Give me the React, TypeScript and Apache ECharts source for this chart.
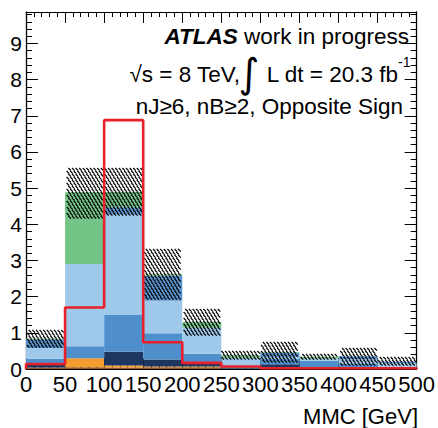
import React, { useEffect, useRef } from 'react';
import * as echarts from 'echarts';

// bin edges of the MMC histogram (GeV)
const binEdges = [0, 50, 100, 150, 200, 250, 300, 350, 400, 450, 500];

// stacked background components, bottom to top
const brown = [0.04, 0.05, 0.04, 0.05, 0.05, 0.01, 0.01, 0.01, 0.01, 0.0];
const orange = [0.0, 0.25, 0.06, 0.02, 0.02, 0.0, 0.0, 0.0, 0.0, 0.0];
const navy = [0.12, 0.0, 0.38, 0.19, 0.1, 0.03, 0.12, 0.02, 0.02, 0.01];
const medium = [0.12, 0.33, 1.03, 0.73, 0.25, 0.05, 0.15, 0.2, 0.12, 0.05];
const light = [0.3, 2.27, 2.76, 0.9, 0.72, 0.22, 0.05, 0.06, 0.12, 0.1];
const extra = [0.24, 0.0, 0.2, 0.69, 0.0, 0.0, 0.12, 0.0, 0.08, 0.04];
const green = [0.02, 1.99, 0.43, 0.03, 0.16, 0.07, 0.02, 0.05, 0.0, 0.0];

// uncertainty on the total background (hatched band)
const err = [0.26, 0.74, 0.7, 0.74, 0.39, 0.2, 0.3, 0.14, 0.31, 0.15];

// signal histogram (red line)
const signal = [0.14, 1.7, 6.88, 0.74, 0.17, 0.07, 0.02, 0.02, 0.02, 0.02];

const FONT = 'Liberation Sans';

export default function App() {
  const ref = useRef<HTMLDivElement>(null);

  useEffect(() => {
    if (!ref.current) return;
    const chart = echarts.init(ref.current, null, { renderer: 'svg' });

    const layers = [brown, orange, navy, medium, light, extra, green];
    const colors = ['#8f5628', '#f29b30', '#1c365f', '#4f8fcc', '#9fc9ea', '#5b95cf', '#74c487'];
    const cum = new Array(signal.length).fill(0);

    const rectRender = (color: string) => (params: any, api: any) => {
      const lo = api.value(2);
      const hi = api.value(3);
      if (hi - lo <= 0) return null;
      const p0 = api.coord([api.value(0), hi]);
      const p1 = api.coord([api.value(1), lo]);
      return {
        type: 'rect',
        shape: { x: p0[0], y: p0[1], width: p1[0] - p0[0], height: p1[1] - p0[1] },
        style: { fill: color },
      };
    };

    const stackSeries = layers.map((vals, li) => {
      const data = vals.map((v, i) => {
        const lo = cum[i];
        const hi = lo + v;
        cum[i] = hi;
        return [binEdges[i], binEdges[i + 1], lo, hi];
      });
      return {
        type: 'custom',
        renderItem: rectRender(colors[li]),
        data,
        encode: { x: [0, 1], y: [2, 3] },
        z: 2,
        silent: true,
      };
    });

    const hatchData = cum.map((t, i) => [binEdges[i], binEdges[i + 1], Math.max(0, t - err[i]), t + err[i]]);

    const hatchRender = (params: any, api: any) => {
      const p0 = api.coord([api.value(0), api.value(3)]);
      const p1 = api.coord([api.value(1), api.value(2)]);
      const x0 = p0[0], y0 = p0[1], x1 = p1[0], y1 = p1[1];
      const dy = 3.0, dx = 3.6, len = 2.6;
      let d = '';
      const rStart = Math.ceil(y0 / dy);
      const rEnd = Math.floor((y1 - len) / dy);
      for (let r = rStart; r <= rEnd; r++) {
        const y = r * dy;
        const off = (Math.abs(r) % 2) * (dx / 2);
        for (let c = Math.ceil((x0 - off) / dx); ; c++) {
          const x = c * dx + off;
          if (x + len > x1) break;
          d += `M${x.toFixed(2)} ${y.toFixed(2)}L${(x + len).toFixed(2)} ${(y + len).toFixed(2)}`;
        }
      }
      if (!d) return null;
      return {
        type: 'path',
        shape: { pathData: d },
        style: { stroke: '#000', lineWidth: 1.2, fill: 'none' },
      };
    };

    const sigPts: number[][] = [[0, 0]];
    signal.forEach((v, i) => {
      sigPts.push([binEdges[i], v], [binEdges[i + 1], v]);
    });
    sigPts.push([500, 0]);

    const black = { color: '#000' };

    const xBase = {
      type: 'value',
      min: 0,
      max: 500,
      interval: 50,
      splitLine: { show: false },
      minorSplitLine: { show: false },
      axisLine: { show: true, onZero: false, lineStyle: { color: '#000', width: 1 } },
      axisTick: { show: true, inside: true, length: 11, lineStyle: black },
      minorTick: { show: true, splitNumber: 5, length: 5, lineStyle: black },
    };
    const yBase = {
      type: 'value',
      min: 0,
      max: 9.87,
      interval: 1,
      splitLine: { show: false },
      minorSplitLine: { show: false },
      axisLine: { show: true, onZero: false, lineStyle: { color: '#000', width: 1.3 } },
      axisTick: { show: true, inside: true, length: 12, lineStyle: black },
      minorTick: { show: true, splitNumber: 5, length: 6, lineStyle: black },
    };

    const option: any = {
      animation: false,
      backgroundColor: '#fff',
      grid: { left: 26, top: 12, right: 21, bottom: 59, containLabel: false },
      xAxis: [
        {
          ...xBase,
          position: 'bottom',
          axisLabel: {
            show: true,
            fontSize: 22,
            fontFamily: FONT,
            color: '#000',
            margin: 4,
            showMinLabel: true,
            showMaxLabel: true,
          },
        },
        { ...xBase, position: 'top', axisLabel: { show: false } },
      ],
      yAxis: [
        {
          ...yBase,
          position: 'left',
          axisLabel: {
            show: true,
            fontSize: 21,
            fontFamily: FONT,
            color: '#000',
            margin: 4,
            formatter: (v: number) => (v > 9.5 ? '' : String(Math.round(v))),
          },
        },
        { ...yBase, position: 'right', axisLabel: { show: false } },
      ],
      series: [
        ...stackSeries,
        {
          type: 'custom',
          renderItem: hatchRender,
          data: hatchData,
          encode: { x: [0, 1], y: [2, 3] },
          z: 3,
          silent: true,
        },
        {
          type: 'line',
          data: sigPts,
          symbol: 'none',
          lineStyle: { color: '#e8202a', width: 2.6 },
          z: 5,
          clip: true,
          silent: true,
        },
      ],
      graphic: [
        {
          type: 'text',
          x: 409,
          y: 36,
          style: {
            text: '{b|ATLAS} work in progress',
            fontSize: 22.5,
            fontFamily: FONT,
            fill: '#000',
            align: 'right',
            verticalAlign: 'middle',
            rich: {
              b: { fontSize: 22.5, fontFamily: FONT, fontWeight: 'bold', fontStyle: 'italic', fill: '#000' },
            },
          },
        },
        {
          type: 'text',
          x: 240,
          y: 74.5,
          style: {
            text: '√s = 8 TeV,',
            fontSize: 22.5,
            fontFamily: FONT,
            fill: '#000',
            align: 'right',
            verticalAlign: 'middle',
          },
        },
        {
          type: 'text',
          x: 249,
          y: 73,
          style: {
            text: '∫',
            fontSize: 40,
            fontFamily: 'DejaVu Sans',
            fill: '#000',
            align: 'center',
            verticalAlign: 'middle',
          },
        },
        {
          type: 'text',
          x: 398,
          y: 74.5,
          style: {
            text: 'L dt = 20.3 fb',
            fontSize: 22.5,
            fontFamily: FONT,
            fill: '#000',
            align: 'right',
            verticalAlign: 'middle',
          },
        },
        {
          type: 'text',
          x: 398,
          y: 62,
          style: {
            text: '-1',
            fontSize: 14,
            fontFamily: FONT,
            fill: '#000',
            align: 'left',
            verticalAlign: 'middle',
          },
        },
        {
          type: 'text',
          x: 403,
          y: 106.5,
          style: {
            text: 'nJ≥6, nB≥2, Opposite Sign',
            fontSize: 22.5,
            fontFamily: FONT,
            fill: '#000',
            align: 'right',
            verticalAlign: 'middle',
          },
        },
        {
          type: 'text',
          x: 418,
          y: 416,
          style: {
            text: 'MMC [GeV]',
            fontSize: 22,
            fontFamily: FONT,
            fill: '#000',
            align: 'right',
            verticalAlign: 'middle',
          },
        },
      ],
    };

    chart.setOption(option);
    return () => {
      chart.dispose();
    };
  }, []);

  return (
    <div
      ref={ref}
      style={{ position: 'fixed', left: 0, top: 0, width: 438, height: 428, background: '#fff' }}
    />
  );
}
